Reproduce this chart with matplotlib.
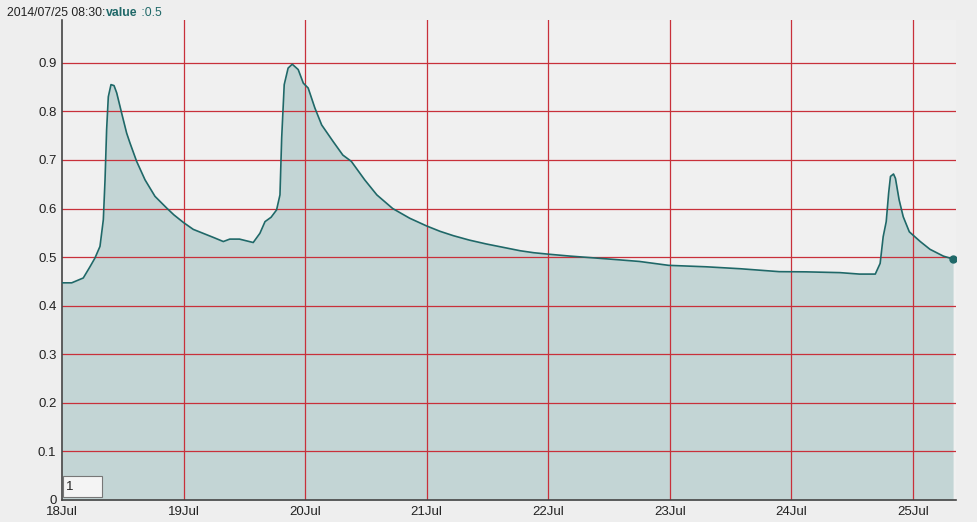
import matplotlib
matplotlib.use('Agg')
import matplotlib.pyplot as plt
from matplotlib.patches import Rectangle

# days since 18 Jul 00:00, and the sensor value
days = [0.00, 0.08, 0.175, 0.23, 0.271, 0.3125, 0.34, 0.354, 0.367, 0.381, 0.403, 0.428,
        0.45, 0.491, 0.532, 0.559, 0.614, 0.683, 0.765, 0.861, 0.92, 1.00, 1.08, 1.16,
        1.25, 1.327, 1.38, 1.46, 1.573, 1.628, 1.67, 1.72, 1.765, 1.793, 1.807, 1.828,
        1.86, 1.894, 1.943, 1.985, 2.025, 2.08, 2.136, 2.23, 2.31, 2.38, 2.49, 2.59,
        2.72, 2.86, 3.00, 3.11, 3.22, 3.35, 3.49, 3.63, 3.77, 3.88, 4.00, 4.18, 4.34,
        4.55, 4.75, 4.99, 5.30, 5.58, 5.90, 6.12, 6.40, 6.56, 6.69, 6.73, 6.755, 6.78,
        6.80, 6.815, 6.84, 6.856, 6.886, 6.92, 6.97, 7.06, 7.14, 7.25, 7.33]
values = [0.447, 0.447, 0.457, 0.480, 0.498, 0.522, 0.577, 0.659, 0.762, 0.830, 0.855, 0.853,
          0.838, 0.796, 0.755, 0.735, 0.697, 0.659, 0.625, 0.601, 0.587, 0.571, 0.557, 0.549,
          0.540, 0.532, 0.537, 0.537, 0.530, 0.549, 0.573, 0.582, 0.597, 0.628, 0.745, 0.855,
          0.889, 0.897, 0.886, 0.858, 0.848, 0.807, 0.772, 0.738, 0.710, 0.697, 0.659, 0.628,
          0.600, 0.580, 0.564, 0.553, 0.544, 0.535, 0.527, 0.520, 0.513, 0.509, 0.506, 0.502,
          0.499, 0.495, 0.491, 0.483, 0.480, 0.476, 0.470, 0.4696, 0.468, 0.465, 0.465,
          0.487, 0.542, 0.573, 0.632, 0.666, 0.671, 0.662, 0.618, 0.583, 0.552, 0.532,
          0.516, 0.502, 0.496]

day_ticks = [0, 1, 2, 3, 4, 5, 6, 7]
day_labels = ['18Jul', '19Jul', '20Jul', '21Jul', '22Jul', '23Jul', '24Jul', '25Jul']
value_ticks = [0, 0.1, 0.2, 0.3, 0.4, 0.5, 0.6, 0.7, 0.8, 0.9]
value_labels = ['0', '0.1', '0.2', '0.3', '0.4', '0.5', '0.6', '0.7', '0.8', '0.9']

plt.rcParams['font.family'] = ['Liberation Sans', 'DejaVu Sans']

bg = '#eeeeee'
line_col = '#1f6868'
fill_col = '#c3d5d5'
grid_col = '#c8303a'

fig = plt.figure(figsize=(9.77, 5.22), dpi=100, facecolor=bg)
ax = fig.add_axes([62/977, 22/522, 894/977, 480/522])
ax.set_facecolor('#f0f0f0')

ax.fill_between(days, values, 0, color=fill_col, lw=0, zorder=1)
for t in day_ticks[1:]:
    ax.axvline(t, color=grid_col, lw=0.9, zorder=2)
for v in value_ticks[1:]:
    ax.axhline(v, color=grid_col, lw=0.9, zorder=2)
ax.plot(days, values, color=line_col, lw=1.2, zorder=3)
ax.plot(days[-1], values[-1], 'o', color=line_col, ms=5, zorder=4)

ax.set_xlim(0, 7.354)
ax.set_ylim(0, 0.988)
ax.set_xticks(day_ticks)
ax.set_xticklabels(day_labels)
ax.set_yticks(value_ticks)
ax.set_yticklabels(value_labels)
ax.tick_params(axis='both', length=0, labelsize=9.5, colors='#222222', pad=4)

for side in ['top', 'right']:
    ax.spines[side].set_visible(False)
for side in ['left', 'bottom']:
    ax.spines[side].set_color('#444444')
    ax.spines[side].set_linewidth(1.2)

# small page box in lower-left corner
fig.patches.append(Rectangle((63/977, 25/522), 39/977, 21/522, transform=fig.transFigure,
                             facecolor='#f4f4f4', edgecolor='#777777', lw=0.8, zorder=5))
fig.text(66/977, 35/522, '1', fontsize=9.5, va='center', ha='left', color='#222222', zorder=6)

# header readout
t1 = fig.text(7/977, 1 - 13/522, '2014/07/25 08:30:', fontsize=8.8, va='center', color='#222222')
fig.canvas.draw()
bb = t1.get_window_extent()
t2 = fig.text(bb.x1 / fig.bbox.width + 0.001, 1 - 13/522, 'value', fontsize=8.8, va='center',
              color=line_col, fontweight='bold')
fig.canvas.draw()
bb2 = t2.get_window_extent()
fig.text(bb2.x1 / fig.bbox.width, 1 - 13/522, ' :0.5', fontsize=8.8, va='center', color=line_col)

fig.savefig('out.png', dpi=100, facecolor=bg)
